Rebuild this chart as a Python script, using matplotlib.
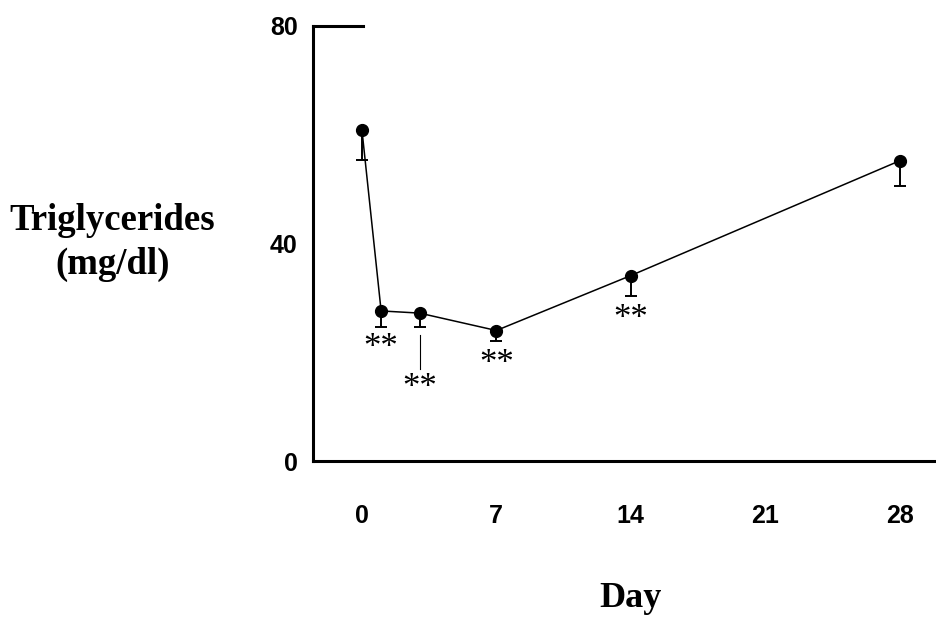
import numpy as np
import matplotlib
matplotlib.use("Agg")
import matplotlib.pyplot as plt

# --- Data ---
days = [0, 1, 3, 7, 14, 28]
tg_mean = [60.9, 27.6, 27.2, 24.0, 34.1, 55.2]
tg_err = [5.5, 2.9, 2.5, 2.0, 3.7, 4.6]   # lower SEM only

# significance marks: (day, y of text)
sig_days = [1, 3, 7, 14]
sig_y = [20.6, 13.4, 17.7, 26.1]
sig_text = "**"

xticks = [0, 7, 14, 21, 28]
yticks = [0, 40, 80]

fig = plt.figure(figsize=(9.37, 6.18), dpi=100)
ax = fig.add_axes([0.334, 0.254, 0.665, 0.704])

# lower error bars
ax.errorbar(days, tg_mean, yerr=[tg_err, np.zeros(len(tg_err))], fmt="none",
            ecolor="black", elinewidth=1.4, capsize=4.6, capthick=1.4, zorder=2)
ax.plot(days, tg_mean, color="black", lw=1.1, marker="o", ms=8.5,
        markerfacecolor="black", zorder=3)

for d, yy in zip(sig_days, sig_y):
    ax.text(d, yy, sig_text, ha="center", va="center", fontsize=25,
            family="Liberation Serif")

# leader line from day 3 error bar to its asterisks
ax.plot([3, 3], [23.2, 16.9], color="black", lw=0.8)

ax.set_xlim(-2.55, 29.9)
ax.set_ylim(0, 80)
ax.set_xticks(xticks)
ax.set_yticks(yticks)
ax.set_xticklabels([str(t) for t in xticks], fontsize=18, fontweight="bold",
                   family="Liberation Sans")
ax.set_yticklabels([str(t) for t in yticks], fontsize=18, fontweight="bold",
                   family="Liberation Sans")
ax.tick_params(axis="both", length=0)
ax.tick_params(axis="x", pad=31)
ax.tick_params(axis="y", pad=11)

for s in ["top", "right"]:
    ax.spines[s].set_visible(False)
for s in ["left", "bottom"]:
    ax.spines[s].set_linewidth(2.2)

# short stub at the top of the y axis
ax.plot([0, 0.08], [1, 1], transform=ax.transAxes, color="black", lw=2.2,
        clip_on=False, solid_capstyle="projecting")

fig.text(0.12, 0.607, "Triglycerides\n(mg/dl)", ha="center", va="center",
         fontsize=26.5, fontweight="bold", family="Liberation Serif",
         linespacing=1.32)
fig.text(0.673, 0.032, "Day", ha="center", va="center", fontsize=26,
         fontweight="bold", family="Liberation Serif")

fig.savefig("out.png", dpi=100)
